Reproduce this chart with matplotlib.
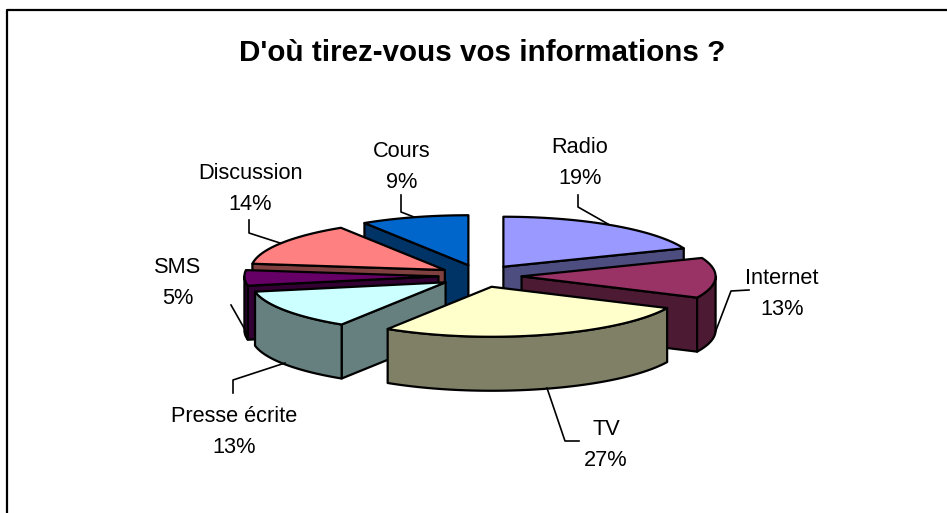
import numpy as np
import matplotlib
matplotlib.use('Agg')
import matplotlib.pyplot as plt

plt.rcParams['font.family'] = ['Liberation Sans', 'DejaVu Sans']

# donnees du camembert, dans le sens horaire depuis midi
categories = ['Radio', 'Internet', 'TV', 'Presse écrite', 'SMS', 'Discussion', 'Cours']
percents = [19, 13, 27, 13, 5, 14, 9]
title = "D'où tirez-vous vos informations ?"

top_colors = ['#9999FF', '#993366', '#FFFFCC', '#CCFFFF', '#660066', '#FF8080', '#0066CC']
side_colors = ['#4D4D80', '#4D1A33', '#808066', '#668080', '#330033', '#804040', '#003366']

# geometrie de la vue 3D, en pixels
cx, cy = 480, 276
rx, ry = 194, 50
depth = 54
explode = 41.6
edge = dict(edgecolor='black', linewidth=1.6, joinstyle='round')

# position des etiquettes et points des traits de rappel
label_pos = [(580, 163), (782, 294), (606, 445), (234, 432), (178, 283), (250, 189), (402, 167)]
leaders = [
    [(578, 195), (578, 207), (608, 224)],
    [(749, 290), (731, 291), (715, 333)],
    [(547, 388), (565, 441), (579, 441)],
    [(233, 393), (233, 380), (285, 363)],
    [(231, 305), (248, 335)],
    [(249, 220), (249, 233), (280, 243)],
    [(401, 195), (401, 212), (414, 217)],
]


def point(x0, y0, angle, r=1.0):
    # angle en degres depuis midi, sens horaire
    a = np.radians(angle)
    return x0 + r * rx * np.sin(a), y0 - r * ry * np.cos(a)


def draw_slice(ax, a0, a1, top, side):
    mid = (a0 + a1) / 2
    x0 = cx + explode * np.sin(np.radians(mid))
    y0 = cy - explode * 52 / 193 * np.cos(np.radians(mid))

    # faces radiales visibles
    for a, visible in [(a0, 180 < a0 < 360), (a1, 0 < a1 < 180)]:
        if visible:
            x1, y1 = point(x0, y0, a)
            ax.fill([x0, x1, x1, x0], [y0, y1, y1 + depth, y0 + depth], facecolor=side, **edge)

    # face exterieure, seulement la partie avant
    lo, hi = max(a0, 90), min(a1, 270)
    if lo < hi:
        t = np.linspace(lo, hi, 60)
        xs, ys = point(x0, y0, t)
        ax.fill(np.r_[xs, xs[::-1]], np.r_[ys, ys[::-1] + depth], facecolor=side, **edge)

    # dessus
    t = np.linspace(a0, a1, 80)
    xs, ys = point(x0, y0, t)
    ax.fill(np.r_[x0, xs], np.r_[y0, ys], facecolor=top, **edge)


fig = plt.figure(figsize=(9.47, 5.13), dpi=100)
ax = fig.add_axes([0, 0, 1, 1])
ax.set_xlim(0, 947)
ax.set_ylim(513, 0)
ax.axis('off')

# cadre du graphique : gauche et haut seulement
ax.plot([7, 7, 950], [520, 10, 10], color='black', lw=1.6)

edges = 360 * np.cumsum([0] + percents) / sum(percents)
# ordre de dessin : du fond vers l'avant
for i in [0, 1, 6, 5, 4, 3, 2]:
    draw_slice(ax, edges[i], edges[i + 1], top_colors[i], side_colors[i])

for pts in leaders:
    xs, ys = zip(*pts)
    ax.plot(xs, ys, color='black', lw=1.2)

for name, pct, (x, y) in zip(categories, percents, label_pos):
    ax.text(x, y, f'{name}\n{pct}%', ha='center', va='center', fontsize=15.7, linespacing=1.6)

ax.text(482, 53, title, ha='center', va='center', fontsize=21.3, fontweight='bold')

fig.savefig('out.png', dpi=100)
